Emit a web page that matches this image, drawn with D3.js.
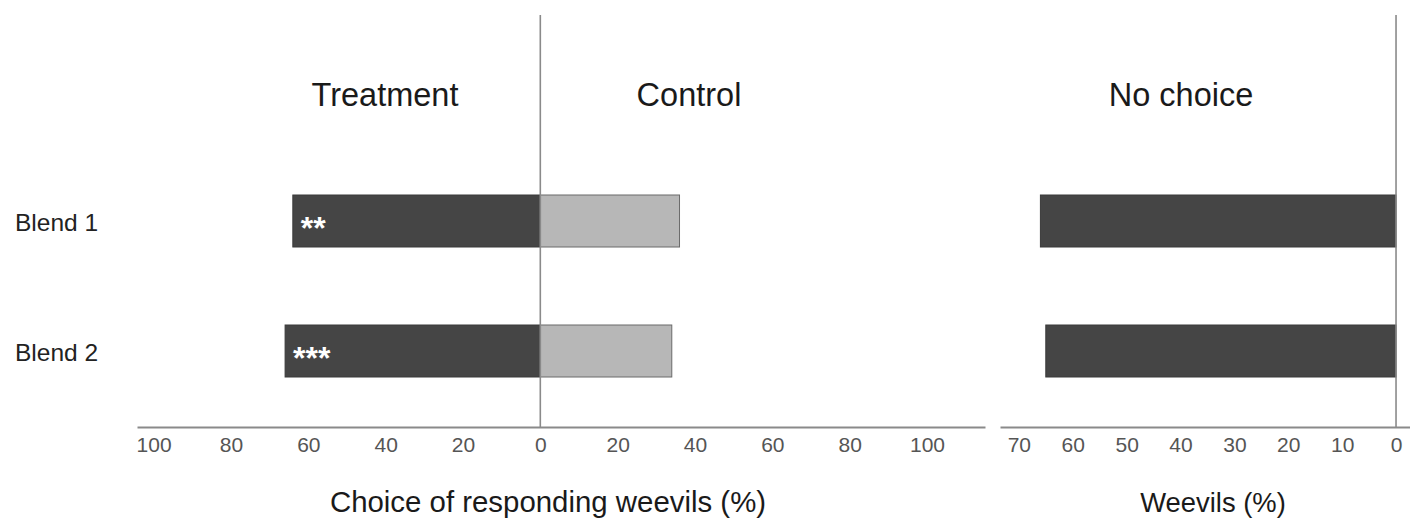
<!DOCTYPE html>
<html>
<head>
<meta charset="utf-8">
<script src="https://cdn.jsdelivr.net/npm/d3@7"></script>
<style>
  html, body { margin: 0; padding: 0; background: #fff; }
  svg { display: block; font-family: "Liberation Sans", Arial, sans-serif; }
</style>
</head>
<body>
<svg id="chart" width="1410" height="523"></svg>
<script>
// Olfactometer responses of weevils to two blends
const blends = ["Blend 1", "Blend 2"];
const treatmentPct = [64, 66];   // choice for treatment arm (%)
const controlPct = [36, 34];     // choice for control arm (%)
const significance = ["**", "***"];
const noChoicePct = [66, 65];    // weevils making no choice (%)
const choiceTicks = [-100, -80, -60, -40, -20, 0, 20, 40, 60, 80, 100];
const noChoiceTicks = [70, 60, 50, 40, 30, 20, 10, 0];

const svg = d3.select("#chart");
const axisY = 427;
const topY = 15;

const xChoice = d3.scaleLinear().domain([-104.3, 115]).range([137, 985]);
const xNone = d3.scaleLinear().domain([73.5, -2.5]).range([1000, 1409.5]);
const y = d3.scaleBand().domain(blends).range([156, 416]).paddingInner(0.6).paddingOuter(0.3);

const dark = "#454545", light = "#b7b7b7";

// Treatment bars (extend left of zero)
svg.append("g").selectAll("rect").data(blends).join("rect")
  .attr("x", (d, i) => xChoice(-treatmentPct[i]))
  .attr("y", d => y(d))
  .attr("width", (d, i) => xChoice(0) - xChoice(-treatmentPct[i]))
  .attr("height", y.bandwidth())
  .attr("fill", dark).attr("stroke", "#3a3a3a").attr("stroke-width", 1);

// Control bars
svg.append("g").selectAll("rect").data(blends).join("rect")
  .attr("x", xChoice(0))
  .attr("y", d => y(d))
  .attr("width", (d, i) => xChoice(controlPct[i]) - xChoice(0))
  .attr("height", y.bandwidth())
  .attr("fill", light).attr("stroke", "#6a6a6a").attr("stroke-width", 1);

// No-choice bars
svg.append("g").selectAll("rect").data(blends).join("rect")
  .attr("x", (d, i) => xNone(noChoicePct[i]))
  .attr("y", d => y(d))
  .attr("width", (d, i) => xNone(0) - xNone(noChoicePct[i]))
  .attr("height", y.bandwidth())
  .attr("fill", dark).attr("stroke", "#3a3a3a").attr("stroke-width", 1);

// Significance stars inside treatment bars
svg.append("g").selectAll("text").data(blends).join("text")
  .attr("x", (d, i) => xChoice(-treatmentPct[i]) + 8)
  .attr("y", d => y(d) + y.bandwidth() / 2 + 18)
  .attr("fill", "#fff")
  .attr("font-size", 32)
  .attr("font-weight", "bold")
  .text((d, i) => significance[i]);

// Zero reference lines
svg.append("line").attr("x1", xChoice(0)).attr("x2", xChoice(0))
  .attr("y1", topY).attr("y2", axisY).attr("stroke", "#8a8a8a").attr("stroke-width", 1.6);
svg.append("line").attr("x1", xNone(0)).attr("x2", xNone(0))
  .attr("y1", topY).attr("y2", axisY).attr("stroke", "#8a8a8a").attr("stroke-width", 1.6);

// Bottom axes
function styleAxis(g) {
  g.select(".domain").attr("stroke", "#8a8a8a").attr("stroke-width", 2);
  g.selectAll(".tick line").remove();
  g.selectAll(".tick text").attr("fill", "#555").attr("font-size", 21)
    .attr("font-family", "Liberation Sans, Arial, sans-serif");
}
svg.append("g").attr("transform", `translate(0,${axisY})`)
  .call(d3.axisBottom(xChoice).tickValues(choiceTicks).tickSize(0).tickPadding(10)
    .tickSizeOuter(0).tickFormat(d => Math.abs(d)))
  .call(styleAxis);
svg.append("g").attr("transform", `translate(0,${axisY})`)
  .call(d3.axisBottom(xNone).tickValues(noChoiceTicks).tickSize(0).tickPadding(10)
    .tickSizeOuter(0).tickFormat(d => d))
  .call(styleAxis);

// Category labels
svg.append("g").selectAll("text").data(blends).join("text")
  .attr("x", 15)
  .attr("y", d => y(d) + y.bandwidth() / 2 + 10)
  .attr("fill", "#222").attr("font-size", 24.5)
  .text(d => d);

// Panel headings
const headings = [
  { label: "Treatment", x: 385 },
  { label: "Control", x: 689 },
  { label: "No choice", x: 1181 }
];
svg.append("g").selectAll("text").data(headings).join("text")
  .attr("x", d => d.x).attr("y", 106)
  .attr("text-anchor", "middle").attr("fill", "#1a1a1a").attr("font-size", 32.5)
  .text(d => d.label);

// Axis titles
svg.append("text").attr("x", 548).attr("y", 512)
  .attr("text-anchor", "middle").attr("fill", "#1a1a1a").attr("font-size", 29.4)
  .text("Choice of responding weevils (%)");
svg.append("text").attr("x", 1213).attr("y", 512)
  .attr("text-anchor", "middle").attr("fill", "#1a1a1a").attr("font-size", 27.4)
  .text("Weevils (%)");
</script>
</body>
</html>
